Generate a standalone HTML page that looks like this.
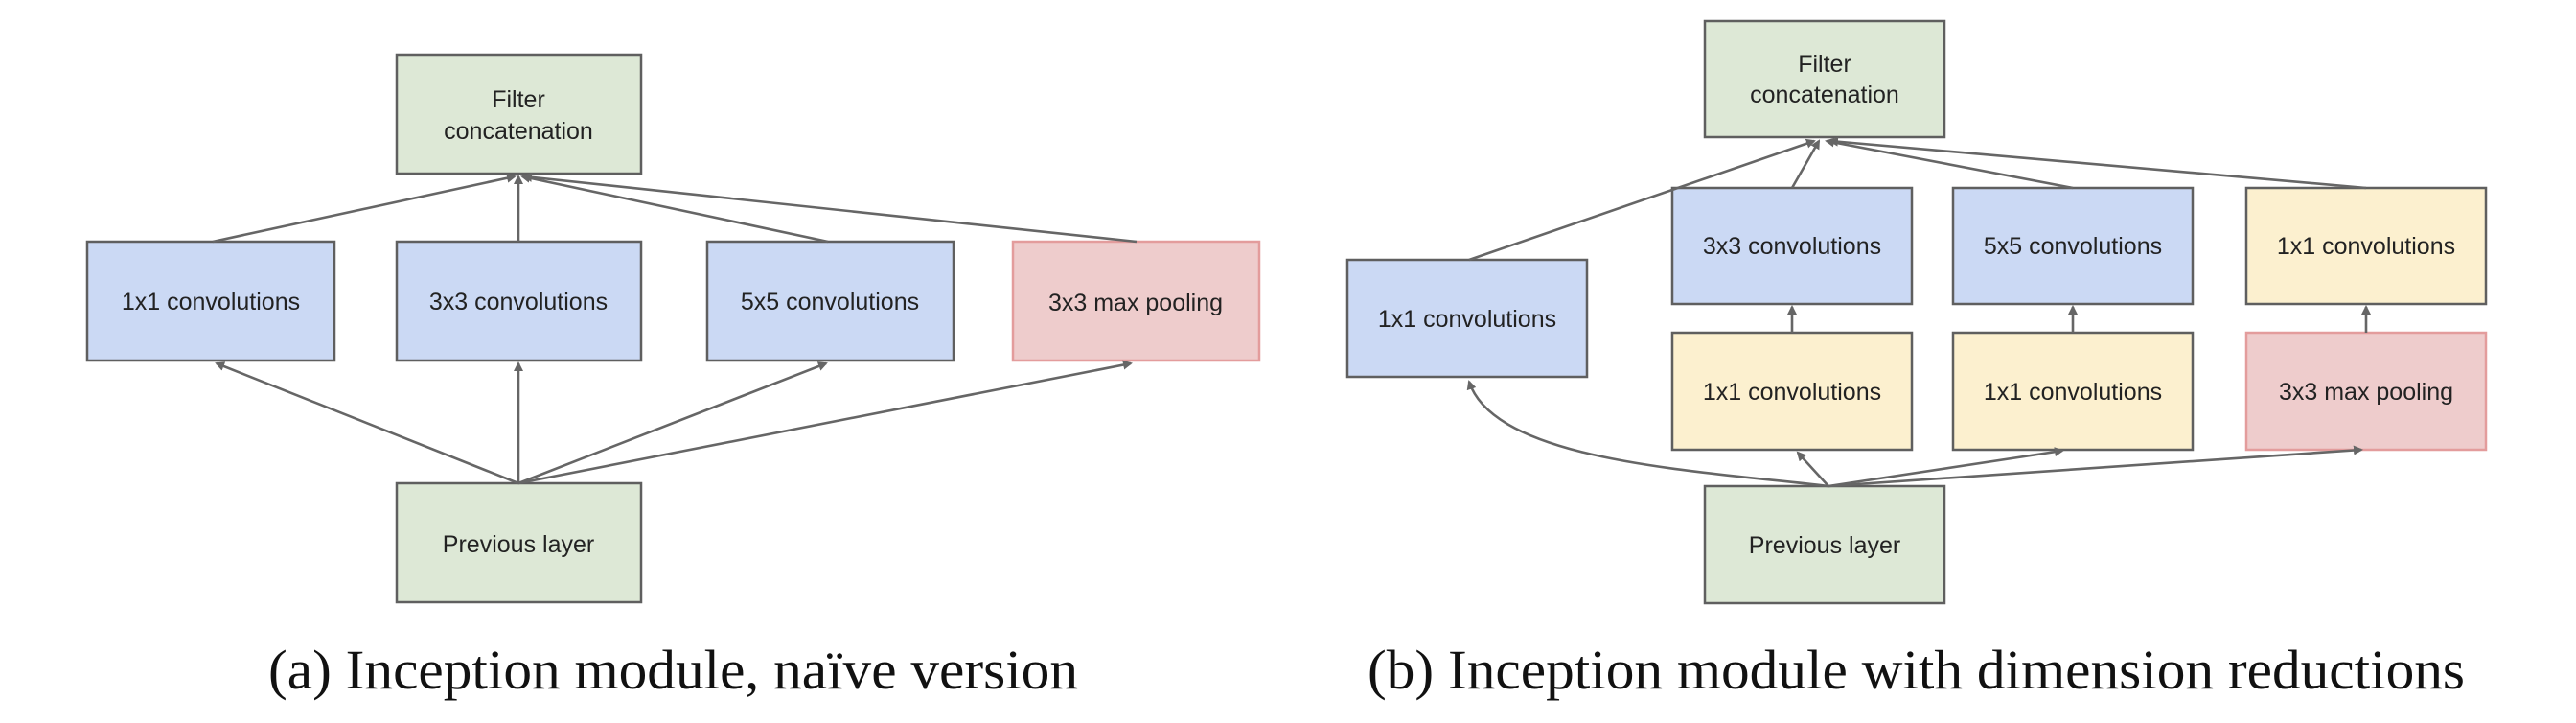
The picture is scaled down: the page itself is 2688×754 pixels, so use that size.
<!DOCTYPE html>
<html><head><meta charset="utf-8"><style>
html,body{margin:0;padding:0;background:#fff;}
svg{display:block;}
.t{font-family:"Liberation Sans",Arial,sans-serif;font-size:25px;fill:#222;text-anchor:middle;dominant-baseline:central;}
.c{font-family:"Liberation Serif","Times New Roman",serif;font-size:58px;fill:#111;}
.g{fill:#dde8d6;stroke:#5f5f5f;stroke-width:2.5;}
.b{fill:#cbd9f4;stroke:#5f5f5f;stroke-width:2.5;}
.r{fill:#eecccc;stroke:#e39c9c;stroke-width:2.5;}
.y{fill:#fcf0cf;stroke:#5f5f5f;stroke-width:2.5;}
.l{stroke:#666;stroke-width:2.6;fill:none;marker-end:url(#ah);}
</style></head><body>
<svg width="2688" height="754" viewBox="0 0 2688 754" xmlns="http://www.w3.org/2000/svg">
<defs><marker id="ah" markerWidth="10" markerHeight="10" refX="8" refY="5" orient="auto" markerUnits="userSpaceOnUse" viewBox="0 0 10 10"><path d="M0,0 L10,5 L0,10 z" fill="#666"/></marker></defs>

<!-- (a) -->
<rect class="g" x="414" y="57" width="255" height="124"/>
<text class="t" x="541" y="104">Filter</text>
<text class="t" x="541" y="137">concatenation</text>
<rect class="b" x="91" y="252" width="258" height="124"/>
<text class="t" x="220" y="315">1x1 convolutions</text>
<rect class="b" x="414" y="252" width="255" height="124"/>
<text class="t" x="541" y="315">3x3 convolutions</text>
<rect class="b" x="738" y="252" width="257" height="124"/>
<text class="t" x="866" y="315">5x5 convolutions</text>
<rect class="r" x="1057" y="252" width="257" height="124"/>
<text class="t" x="1185" y="316">3x3 max pooling</text>
<rect class="g" x="414" y="504" width="255" height="124"/>
<text class="t" x="541" y="568">Previous layer</text>

<line class="l" x1="222" y1="252" x2="537" y2="184"/>
<line class="l" x1="541" y1="252" x2="541" y2="184"/>
<line class="l" x1="864" y1="252" x2="545" y2="184"/>
<line class="l" x1="1186" y1="252" x2="547" y2="184"/>
<line class="l" x1="541" y1="504" x2="226" y2="379"/>
<line class="l" x1="541" y1="504" x2="541" y2="379"/>
<line class="l" x1="541" y1="504" x2="862" y2="379"/>
<line class="l" x1="541" y1="504" x2="1180" y2="379"/>

<text class="c" x="280" y="718" textLength="845" lengthAdjust="spacingAndGlyphs">(a) Inception module, naïve version</text>

<!-- (b) -->
<rect class="g" x="1779" y="22" width="250" height="121"/>
<text class="t" x="1904" y="67">Filter</text>
<text class="t" x="1904" y="99">concatenation</text>
<rect class="b" x="1406" y="271" width="250" height="122"/>
<text class="t" x="1531" y="333">1x1 convolutions</text>
<rect class="b" x="1745" y="196" width="250" height="121"/>
<text class="t" x="1870" y="257">3x3 convolutions</text>
<rect class="b" x="2038" y="196" width="250" height="121"/>
<text class="t" x="2163" y="257">5x5 convolutions</text>
<rect class="y" x="2344" y="196" width="250" height="121"/>
<text class="t" x="2469" y="257">1x1 convolutions</text>
<rect class="y" x="1745" y="347" width="250" height="122"/>
<text class="t" x="1870" y="409">1x1 convolutions</text>
<rect class="y" x="2038" y="347" width="250" height="122"/>
<text class="t" x="2163" y="409">1x1 convolutions</text>
<rect class="r" x="2344" y="347" width="250" height="122"/>
<text class="t" x="2469" y="409">3x3 max pooling</text>
<rect class="g" x="1779" y="507" width="250" height="122"/>
<text class="t" x="1904" y="569">Previous layer</text>

<line class="l" x1="1533" y1="271" x2="1893" y2="147"/>
<line class="l" x1="1870" y1="196" x2="1898" y2="147"/>
<line class="l" x1="2163" y1="196" x2="1906" y2="147"/>
<line class="l" x1="2469" y1="196" x2="1910" y2="147"/>
<line class="l" x1="1870" y1="347" x2="1870" y2="320"/>
<line class="l" x1="2163" y1="347" x2="2163" y2="320"/>
<line class="l" x1="2469" y1="347" x2="2469" y2="320"/>
<path class="l" d="M1908,507 C1760,490 1560,480 1533,398"/>
<line class="l" x1="1908" y1="507" x2="1876" y2="472"/>
<line class="l" x1="1908" y1="507" x2="2152" y2="470"/>
<line class="l" x1="1908" y1="507" x2="2464" y2="469"/>

<text class="c" x="1427" y="718" textLength="1145" lengthAdjust="spacingAndGlyphs">(b) Inception module with dimension reductions</text>
</svg>
</body></html>
